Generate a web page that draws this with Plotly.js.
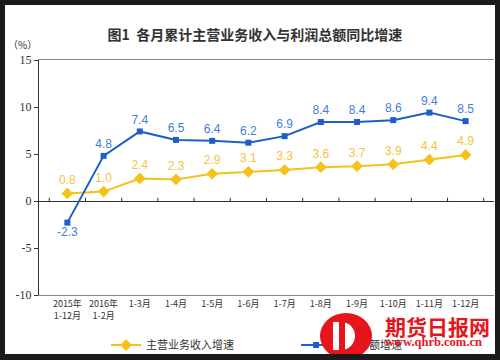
<!DOCTYPE html>
<html><head><meta charset="utf-8">
<script src="https://cdn.plot.ly/plotly-3.0.1.min.js"></script>
<style>
body{margin:0;background:#1b1b1b;width:500px;height:360px;overflow:hidden;}
#wrap{position:absolute;left:5px;top:5px;width:490px;height:349px;background:#fff;overflow:hidden;}
#chart{position:absolute;left:0;top:0;width:490px;height:349px;}
#logo{position:absolute;left:315px;top:308px;width:52px;height:46px;border-radius:50%;background:#e8141c;}
#logoIn{position:absolute;left:13px;top:9px;width:22px;height:28px;background:#fff;border-radius:0 14px 14px 0;}
#logoBar{position:absolute;left:19px;top:9px;width:6px;height:28px;background:#e8141c;}
#wmT{position:absolute;left:380px;top:306px;font:bold 21px "Noto Sans CJK SC";color:#e8141c;white-space:nowrap;}
#wmU{position:absolute;left:380px;top:330px;font:bold 12.5px "Liberation Serif";color:#e8141c;white-space:nowrap;}
</style></head><body>
<div id="wrap"><div id="chart"></div>
<div id="logo"><div id="logoIn"></div><div id="logoBar"></div></div>
<div id="wmT">期货日报网</div><div id="wmU">www.qhrb.com.cn</div>
</div>
<script>
var months = ['2015年<br>1-12月','2016年<br>1-2月','1-3月','1-4月','1-5月','1-6月','1-7月','1-8月','1-9月','1-10月','1-11月','1-12月'];
var revenueGrowth = [0.8,1.0,2.4,2.3,2.9,3.1,3.3,3.6,3.7,3.9,4.4,4.9];
var profitGrowth = [-2.3,4.8,7.4,6.5,6.4,6.2,6.9,8.4,8.4,8.6,9.4,8.5];
var yTicks = [-10,-5,0,5,10,15];
var yTickText = ['-10','-5','0','5','10','15'];
var seriesNames = ['主营业务收入增速','利润总额增速'];

var fmt = function(v){return v.toFixed(1);};
var traces = [
 {x:months,y:revenueGrowth,name:seriesNames[0],mode:'lines+markers+text',
  line:{color:'#f5c21b',width:2},marker:{symbol:'diamond',size:9,color:'#f5c21b'},
  text:revenueGrowth.map(fmt),textposition:'top center',
  textfont:{family:'Liberation Sans',size:12,color:'#f6c43c'},cliponaxis:false,hoverinfo:'skip'},
 {x:months,y:profitGrowth,name:seriesNames[1],mode:'lines+markers+text',
  line:{color:'#1d5ec9',width:2},marker:{symbol:'square',size:6,color:'#1d5ec9'},
  text:profitGrowth.map(fmt),textposition:profitGrowth.map(function(v){return v<0?'bottom center':'top center';}),
  textfont:{family:'Liberation Sans',size:12,color:'#3f80d4'},cliponaxis:false,hoverinfo:'skip'}
];
// small tick marks on the zero line at category boundaries
var tickShapes = [];
for (var i = 0; i <= months.length; i++) {
  tickShapes.push({type:'line',xref:'x',yref:'y',x0:i-0.5,x1:i-0.5,y0:0,y1:0.35,line:{color:'#333',width:1},layer:'above'});
}
var layout = {
 width:490,height:349,
 margin:{l:34,r:1,t:55,b:59,autoexpand:false},
 paper_bgcolor:'#fff',plot_bgcolor:'#fff',
 font:{family:'Noto Sans CJK SC',color:'#333'},
 title:{text:'图1  各月累计主营业务收入与利润总额同比增速',font:{size:14,color:'#333',weight:'bold'},
  x:0.51,xref:'container',xanchor:'center',y:0.914,yref:'container',yanchor:'middle'},
 xaxis:{type:'category',showline:true,linecolor:'#888',linewidth:1,mirror:true,ticks:'',automargin:false,
  tickfont:{size:9,color:'#333'},showgrid:false,zeroline:false,fixedrange:true},
 yaxis:{range:[-10,15],tickvals:yTicks,ticktext:yTickText,ticks:'outside',ticklen:4,tickcolor:'#333',automargin:false,
  showline:true,linecolor:'#333',linewidth:1,showgrid:false,zeroline:true,zerolinecolor:'#333',zerolinewidth:1,
  tickfont:{family:'Liberation Serif',size:12,color:'#333'}},
 legend:{orientation:'h',x:0.565,xanchor:'center',y:-0.213,yanchor:'middle',font:{size:11,color:'#333'},
  entrywidth:145,bgcolor:'rgba(0,0,0,0)'},
 shapes:tickShapes,
 annotations:[{text:'（%）',xref:'paper',yref:'paper',x:-0.037,y:1.065,xanchor:'center',yanchor:'middle',
  showarrow:false,font:{size:10,color:'#333'}}]
};
Plotly.newPlot('chart',traces,layout,{displayModeBar:false,staticPlot:true});
</script></body></html>
